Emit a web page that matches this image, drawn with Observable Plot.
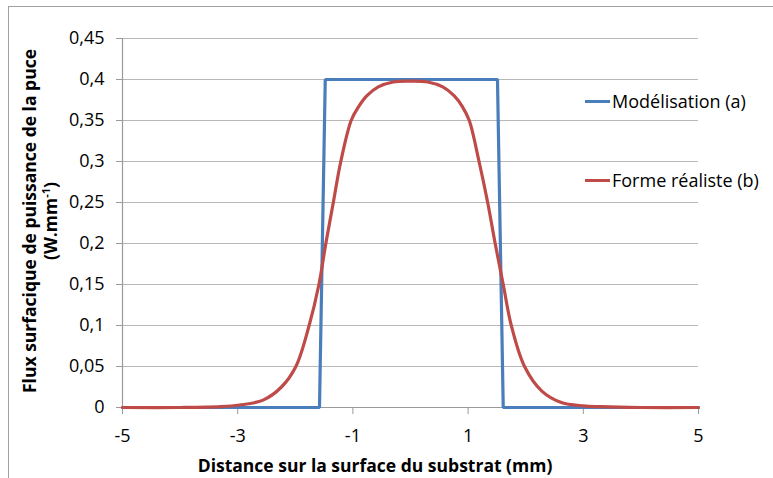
<!DOCTYPE html>
<html>
<head>
<meta charset="utf-8">
<script src="https://cdn.jsdelivr.net/npm/d3@7"></script>
<script src="https://cdn.jsdelivr.net/npm/@observablehq/plot@0.6"></script>
<style>
  html, body { margin: 0; padding: 0; background: #fff; }
  #wrap { position: relative; width: 773px; height: 478px; overflow: hidden; font-family: "Open Sans", sans-serif; }
  #frame { position: absolute; left: 8px; top: 6px; width: 800px; height: 500px; border: 1px solid #a0a0a0; box-sizing: border-box; pointer-events: none; }
  #ytitle { position: absolute; left: 40px; top: 221px; transform: translate(-50%, -50%) rotate(-90deg); white-space: nowrap; text-align: center; font-weight: bold; font-size: 17.5px; line-height: 21px; color: #000; }
  #xtitle { position: absolute; left: 375px; top: 465px; transform: translate(-50%, -50%); white-space: nowrap; font-weight: bold; font-size: 17.5px; color: #000; }
  .leg { position: absolute; display: flex; align-items: center; font-size: 18px; color: #000; white-space: nowrap; }
  .leg span.sw { display: inline-block; width: 25px; height: 3px; margin-right: 2px; }
  sup { font-size: 11px; line-height: 0; }
</style>
</head>
<body>
<div id="wrap">
  <div id="chart"></div>
  <div id="frame"></div>
  <div id="ytitle">Flux surfacique de puissance de la puce<br>(W.mm<sup>-1</sup>)</div>
  <div id="xtitle">Distance sur la surface du substrat (mm)</div>
  <div id="legend"></div>
</div>
<script>
// Series (a): modelled step profile
const modelX = [-5, -1.58, -1.48, 1.51, 1.61, 5];
const modelY = [0, 0, 0.4, 0.4, 0, 0];

// Series (b): realistic profile
const realX = [-5, -4, -3.3, -2.97, -2.56, -2.24, -1.99, -1.76, -1.59, -1.47, -1.34, -1.21, -1.03, -0.9, -0.76, -0.56, -0.3, 0,
               0.3, 0.56, 0.76, 0.9, 1.02, 1.19, 1.34, 1.47, 1.61, 1.75, 1.98, 2.28, 2.62, 3.0, 3.3, 4, 5];
const realY = [0, 0, 0.001, 0.003, 0.009, 0.025, 0.05, 0.1, 0.15, 0.2, 0.25, 0.3, 0.35, 0.367, 0.38, 0.391, 0.397, 0.398,
               0.397, 0.391, 0.38, 0.367, 0.35, 0.3, 0.25, 0.2, 0.15, 0.1, 0.05, 0.02, 0.006, 0.002, 0.001, 0, 0];

const seriesNames = ["Modélisation (a)", "Forme réaliste (b)"];
const seriesColors = ["#4a7ebb", "#be4b48"];

const xTicks = [-5, -3, -1, 1, 3, 5];
const yTicks = [0, 0.05, 0.1, 0.15, 0.2, 0.25, 0.3, 0.35, 0.4, 0.45];

const model = modelX.map((x, i) => ({x, y: modelY[i]}));
const real = realX.map((x, i) => ({x, y: realY[i]}));
const fmt = v => String(v).replace(".", ",");

const chart = Plot.plot({
  width: 773,
  height: 478,
  marginLeft: 122,
  marginRight: 75,
  marginTop: 38,
  marginBottom: 71,
  style: { fontFamily: "'Open Sans', sans-serif", fontSize: "18px", color: "#000", background: "transparent" },
  x: { domain: [-5, 5], label: null },
  y: { domain: [0, 0.45], label: null },
  marks: [
    Plot.gridY(yTicks.filter(v => v > 0), { stroke: "#b8b8b8", strokeOpacity: 1, strokeWidth: 1.2 }),
    Plot.axisX({ ticks: xTicks, tickFormat: fmt, tickSize: 7, tickPadding: 15, stroke: "#999", fill: "#000", label: null }),
    Plot.axisY({ ticks: yTicks, tickFormat: fmt, tickSize: 6, tickPadding: 12, stroke: "#999", fill: "#000", label: null }),
    Plot.ruleX([-5], { stroke: "#999", strokeWidth: 1.2 }),
    Plot.ruleY([0], { stroke: "#999", strokeWidth: 1.2 }),
    Plot.line(model, { x: "x", y: "y", stroke: seriesColors[0], strokeWidth: 3.2, strokeLinejoin: "miter" }),
    Plot.line(real, { x: "x", y: "y", stroke: seriesColors[1], strokeWidth: 3.2, curve: "catmull-rom" })
  ]
});
document.getElementById("chart").appendChild(chart);

// Legend (right side)
const legend = document.getElementById("legend");
const legendTops = [101, 180];
seriesNames.forEach((name, i) => {
  const d = document.createElement("div");
  d.className = "leg";
  d.style.left = "585px";
  d.style.top = (legendTops[i] - 12) + "px";
  d.style.height = "24px";
  d.innerHTML = `<span class="sw" style="background:${seriesColors[i]}"></span>${name}`;
  legend.appendChild(d);
});
</script>
</body>
</html>
